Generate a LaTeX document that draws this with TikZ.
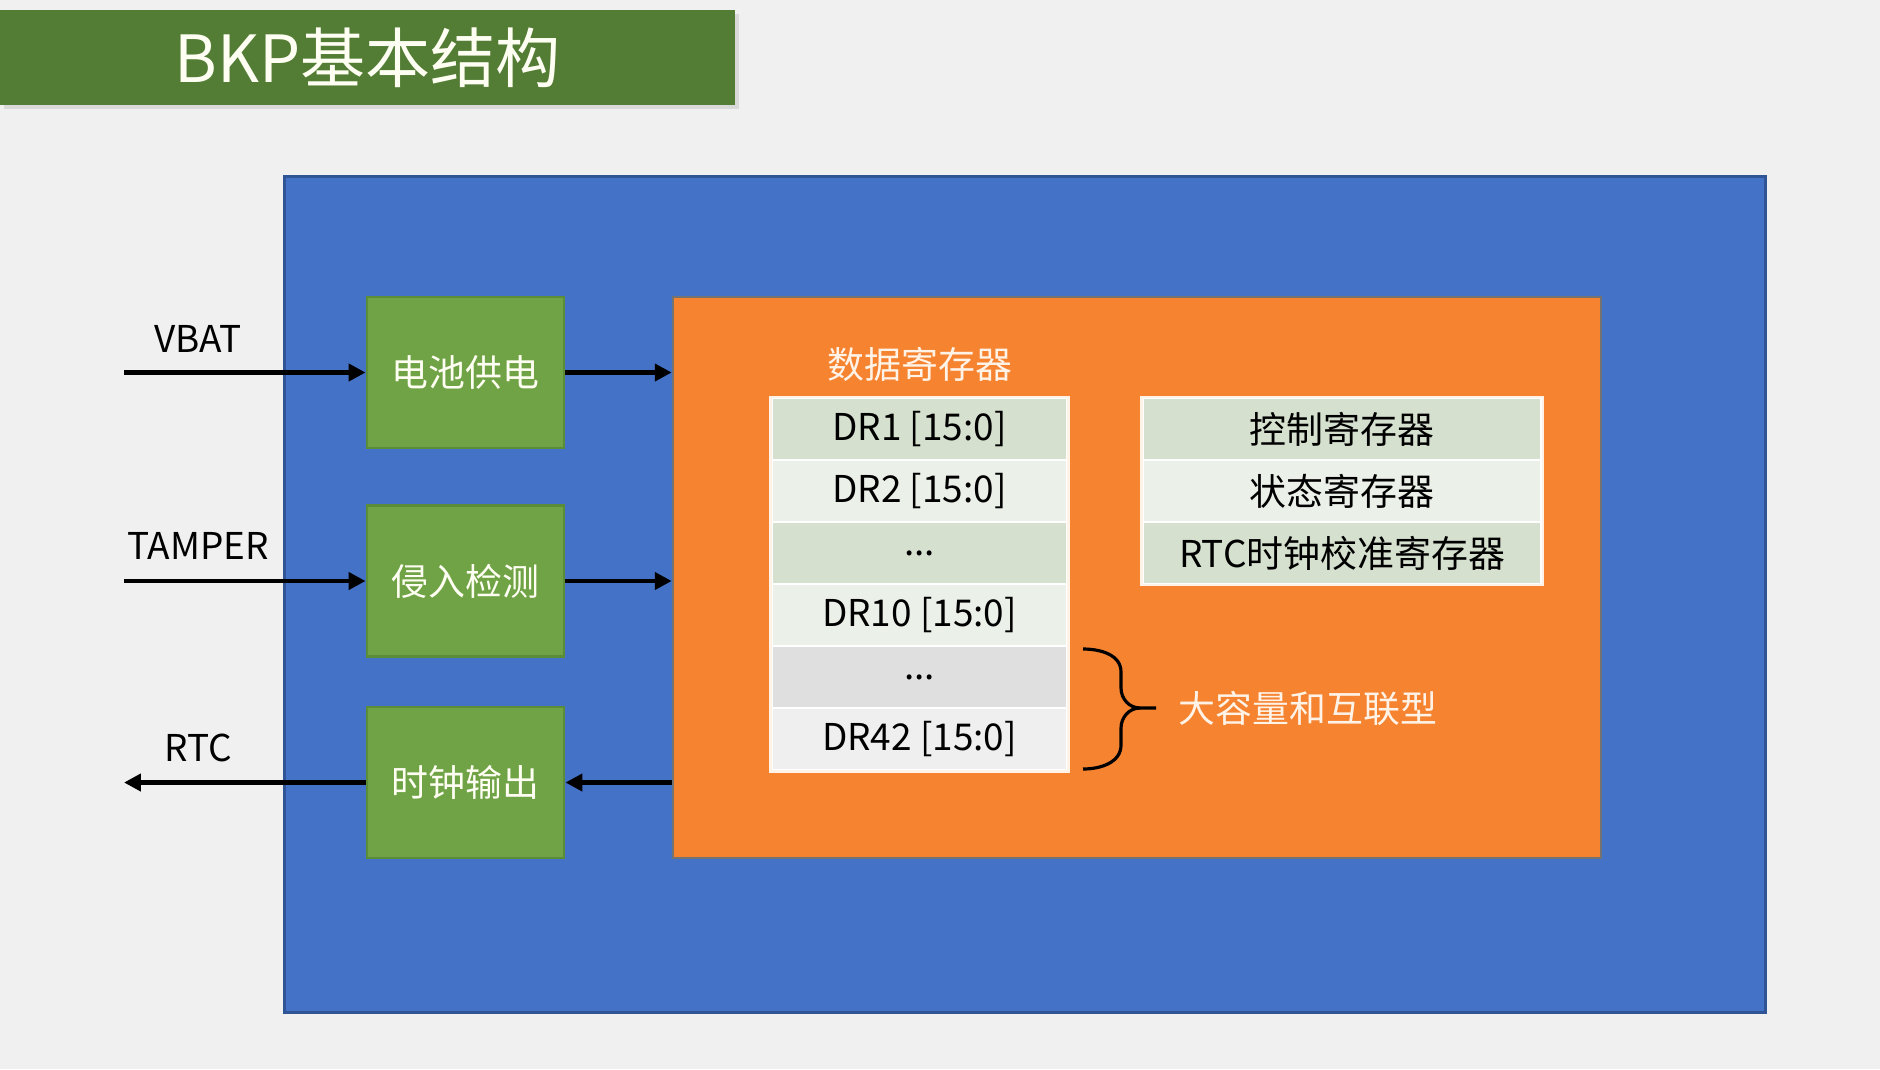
\documentclass[tikz,border=0pt]{standalone}
\usepackage{fontspec}
\setmainfont{Noto Sans CJK SC}
\usetikzlibrary{%
  arrows.meta,%
  positioning,% wg. " of "
  shadows%
}

\definecolor{canvas}{HTML}{F0F0F0}
\definecolor{titlegreen}{HTML}{537D35}
\definecolor{chipblue}{HTML}{4472C6}
\definecolor{chipline}{HTML}{2F5597}
\definecolor{coreorange}{HTML}{F5832F}
\definecolor{funcgreen}{HTML}{6FA345}
\definecolor{funcline}{HTML}{5B8C38}
\definecolor{reggreen}{HTML}{D5E0CF}
\definecolor{reglight}{HTML}{EBF0E8}
\definecolor{reggray}{HTML}{DFDFDF}
\definecolor{reggraylight}{HTML}{EFEFEF}
\definecolor{cream}{HTML}{FFF3E8}

\newcommand{\bodyfont}{\fontsize{10.5pt}{12pt}\selectfont}
\newcommand{\headfont}{\fontsize{18.5pt}{20pt}\selectfont}

\begin{document}
\begin{tikzpicture}
[x=0.01cm, y=-0.01cm, >={Triangle[length=4.8pt,width=4.8pt]},
titlebar/.style={rectangle, fill=titlegreen, text=white!95!yellow, inner sep=0pt, minimum width=7.35cm, minimum height=0.95cm, font=\headfont, drop shadow={shadow xshift=0.04cm, shadow yshift=-0.04cm, opacity=0.2}},
chip/.style={rectangle, draw=chipline, line width=0.8pt, fill=chipblue, inner sep=0pt, minimum width=14.8cm, minimum height=8.35cm},
core/.style={rectangle, draw=black!55, line width=0.6pt, fill=coreorange, inner sep=0pt, minimum width=9.28cm, minimum height=5.61cm},
func/.style={rectangle, draw=funcline, line width=0.8pt, fill=funcgreen, text=white!95!yellow, inner sep=0pt, minimum width=1.97cm, minimum height=1.51cm, font=\bodyfont},
reg1/.style={rectangle, draw=white, line width=0.8pt, fill=reggreen, inner sep=0pt, minimum width=2.95cm, minimum height=0.62cm, font=\bodyfont},
reg0/.style={reg1, fill=reglight},
reggrey1/.style={reg1, fill=reggray},
reggrey0/.style={reg1, fill=reggraylight},
ctrl1/.style={reg1, minimum width=3.98cm},
ctrl0/.style={ctrl1, fill=reglight},
pin/.style={inner sep=0pt, font=\bodyfont},
sig/.style={line width=1.2pt, ->},
note/.style={inner sep=0pt, text=cream, font=\bodyfont}]

\useasboundingbox[fill=canvas] (0,0) rectangle (1880,1069);

\node[titlebar] (title) at (367.5,57.5) {BKP基本结构};

\node[chip] (chip) at (1025,594.5) {};
\node[core] (core) at (1137,577.5) {};

% Funktionsbloecke
\node[func] (bat) at (465.5,372.5) {电池供电};
\node[func] (tamper) at (465.5,581) {侵入检测};
\node[func] (clkout) at (465.5,782.5) {时钟输出};

\coordinate (vbatin) at (124,372.5);
\coordinate (tamperin) at (124,581);
\coordinate (rtcout) at (124,782.5);

\node[pin] (vbatlbl) at (198,339) {VBAT};
\node[pin] (tamperlbl) at (198,546) {TAMPER};
\node[pin] (rtclbl) at (198,748) {RTC};

\draw[sig] (vbatin) -- (bat.west);
\draw[sig] (bat.east) -- (bat.east -| core.west);
\draw[sig] (tamperin) -- (tamper.west);
\draw[sig] (tamper.east) -- (tamper.east -| core.west);
\draw[sig] (clkout.east -| core.west) -- (clkout.east);
\draw[sig] (clkout.west) -- (rtcout);

% Datenregister
\node[note] (drtitle) at (920,364) {数据寄存器};

\node[reg1] (dr1) at (919.5,429) {DR1 [15:0]};
\node[reg0] (dr2) at (919.5,491) {DR2 [15:0]};
\node[reg1] (dots1) at (919.5,553) {...};
\node[reg0] (dr10) at (919.5,615) {DR10 [15:0]};
\node[reggrey1] (dots2) at (919.5,677) {...};
\node[reggrey0] (dr42) at (919.5,739) {DR42 [15:0]};
\draw[draw=cream, line width=0.6pt] (dr1.north west) rectangle (dr42.south east);

% Steuerregister
\node[ctrl1] (cr) at (1342,429) {控制寄存器};
\node[ctrl0] (sr) at (1342,491) {状态寄存器};
\node[ctrl1] (cal) at (1342,553) {RTC时钟校准寄存器};
\draw[draw=cream, line width=0.6pt] (cr.north west) rectangle (cal.south east);

% Klammer
\coordinate (bracetip) at (1156,708);
\draw[line width=0.9pt] (1083,649) to[out=0,in=90] (1121,672) -- (1121,688)
  to[out=-90,in=180] (1140,708) -- (bracetip);
\draw[line width=0.9pt] (1140,708) to[out=180,in=90] (1121,728) -- (1121,745)
  to[out=-90,in=0] (1083,769);
\node[note, anchor=west] (biglbl) at (1178,708) {大容量和互联型};

\end{tikzpicture}
\end{document}
